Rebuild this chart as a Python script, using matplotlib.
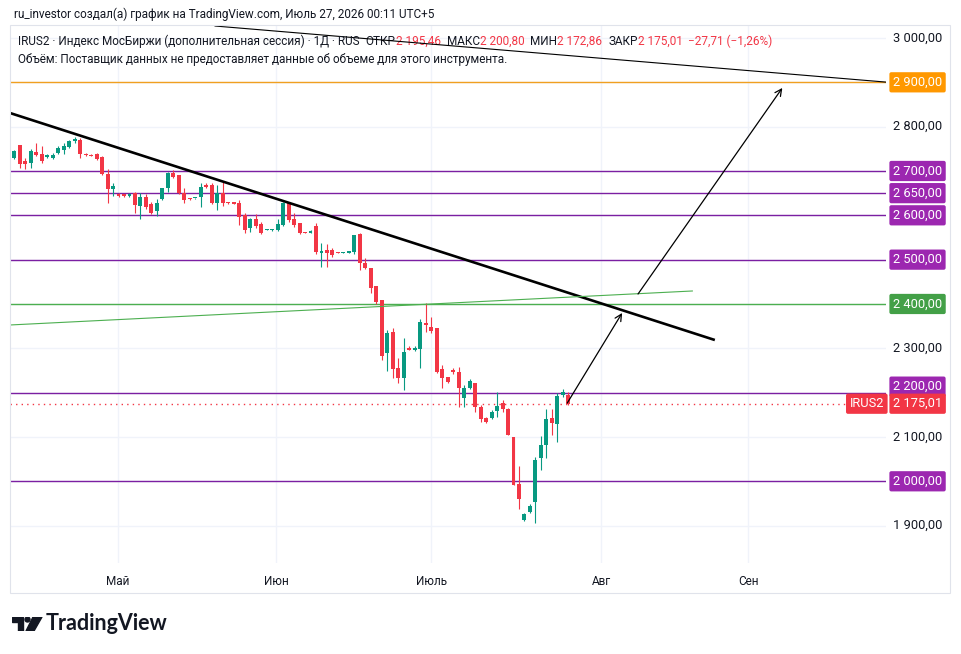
import matplotlib
matplotlib.use("Agg")
import matplotlib.pyplot as plt
import matplotlib.transforms as mtransforms
from matplotlib.patches import Polygon, Circle, Rectangle

# Дневные свечи IRUS2 (индекс по барам, торговые дни)
opens = [2729, 2759, 2723, 2718, 2743, 2738, 2732, 2730, 2741, 2747, 2754, 2768, 2770, 2738, 2737, 2738, 2731, 2693, 2659, 2648,
         2646, 2644, 2650, 2621, 2641, 2625, 2610, 2637, 2662, 2695, 2691, 2650, 2637, 2638, 2641, 2668, 2668, 2628, 2650, 2628,
         2627, 2628, 2600, 2571, 2592, 2580, 2566, 2566, 2567, 2578, 2628, 2592, 2583, 2562, 2560, 2576, 2515, 2522, 2522, 2516,
         2515, 2515, 2517, 2558, 2492, 2481, 2440, 2409, 2289, 2337, 2256, 2233, 2301, 2296, 2298, 2357, 2348, 2346, 2253, 2236,
         2251, 2247, 2188, 2210, 2222, 2168, 2143, 2143, 2159, 2177, 2163, 2100, 1994, 1913, 1930, 1953, 2053, 2082, 2143, 2130,
         2195, 2195.46]
highs = [2748, 2759, 2729, 2750, 2763, 2756, 2738, 2740, 2756, 2763, 2770, 2777, 2775, 2740, 2738, 2740, 2734, 2705, 2673, 2650,
         2648, 2650, 2652, 2650, 2648, 2630, 2637, 2662, 2698, 2702, 2691, 2661, 2638, 2640, 2673, 2673, 2673, 2668, 2675, 2629,
         2628, 2634, 2605, 2594, 2603, 2585, 2568, 2568, 2592, 2630, 2630, 2605, 2583, 2563, 2566, 2583, 2537, 2535, 2526, 2517,
         2517, 2520, 2556, 2560, 2503, 2481, 2440, 2409, 2341, 2346, 2278, 2323, 2305, 2305, 2366, 2402, 2370, 2346, 2262, 2236,
         2256, 2258, 2217, 2231, 2222, 2172, 2145, 2161, 2201, 2183, 2165, 2100, 2034, 1928, 1948, 2055, 2102, 2163, 2163, 2199,
         2208, 2200.80]
lows = [2726, 2707, 2705, 2707, 2734, 2718, 2729, 2727, 2738, 2738, 2752, 2763, 2730, 2734, 2733, 2725, 2690, 2628, 2644, 2642,
        2642, 2642, 2605, 2592, 2614, 2603, 2598, 2634, 2652, 2684, 2648, 2628, 2635, 2637, 2619, 2661, 2626, 2612, 2621, 2626,
        2625, 2578, 2560, 2562, 2571, 2557, 2566, 2565, 2565, 2576, 2585, 2573, 2557, 2559, 2559, 2512, 2483, 2483, 2506, 2514,
        2514, 2514, 2512, 2476, 2480, 2425, 2400, 2274, 2249, 2233, 2222, 2206, 2296, 2295, 2256, 2337, 2334, 2245, 2210, 2222,
        2242, 2168, 2168, 2208, 2156, 2134, 2132, 2141, 2145, 2156, 2104, 1992, 1937, 1910, 1928, 1906, 2026, 2053, 2104, 2089,
        2190, 2172.86]
closes = [2745, 2716, 2716, 2745, 2736, 2723, 2736, 2737, 2752, 2756, 2768, 2772, 2738, 2736, 2734, 2727, 2693, 2659, 2666, 2644,
          2644, 2648, 2623, 2641, 2619, 2605, 2628, 2661, 2695, 2686, 2650, 2634, 2636, 2639, 2664, 2664, 2628, 2650, 2628, 2627,
          2626, 2596, 2567, 2592, 2576, 2560, 2567, 2567, 2580, 2628, 2589, 2578, 2560, 2560, 2565, 2517, 2519, 2515, 2510, 2515,
          2516, 2519, 2556, 2492, 2481, 2436, 2404, 2283, 2334, 2253, 2233, 2292, 2297, 2300, 2359, 2353, 2339, 2247, 2233, 2224,
          2247, 2210, 2210, 2226, 2168, 2141, 2134, 2156, 2170, 2163, 2104, 1992, 1960, 1926, 1944, 2049, 2082, 2141, 2132, 2192,
          2201, 2175.01]

# Ось времени: метки месяцев (позиция в барах)
month_ticks = [18.9, 47.7, 76.0, 107.0, 133.8]
month_labels = ["Май", "Июн", "Июль", "Авг", "Сен"]

# Шкала цены
grid_levels = [1900, 2000, 2100, 2200, 2300, 2400, 2500, 2600, 2700, 2800, 2900, 3000]
plain_levels = [3000, 2800, 2300, 2100, 1900]

# Горизонтальные уровни, нарисованные автором
purple_levels = [2700, 2650, 2600, 2500, 2200, 2000]
green_level = 2400
orange_level = 2900
last_price = 2175.01

# Наклонные линии и стрелки: (бар, цена)
trend_thick = [(-0.78, 2830.8), (127.7, 2318.7)]
trend_thin = [(36.6, 3027.0), (158.9, 2900.5)]
trend_green = [(-0.78, 2352.6), (123.6, 2429.3)]
arrow_1 = [(100.8, 2176.6), (110.8, 2379.7)]
arrow_2 = [(113.7, 2422.5), (140.0, 2887.3)]

UP = "#089981"
DOWN = "#f23645"
PURPLE_LINE = "#7b1fa2"
PURPLE_BOX = "#9c27b0"
TEXT = "#131722"
FONT = ["Roboto", "DejaVu Sans"]


def fmt(v):
    return f"{v:,.2f}".replace(",", " ").replace(".", ",")


def draw_chart(output_file):
    plt.rcParams["font.family"] = FONT
    W, H = 961, 654
    fig = plt.figure(figsize=(W / 100, H / 100), dpi=100)
    fig.patch.set_facecolor("white")

    # область графика в пикселях: x 10..886, y 25..563
    ax = fig.add_axes([10 / W, 1 - 563 / H, 876 / W, 538 / H])
    ax.set_xlim(-0.78, 158.9)
    ax.set_ylim(1815.7, 3029.3)
    for s in ax.spines.values():
        s.set_visible(False)

    # сетка
    ax.set_yticks(grid_levels)
    ax.set_xticks(month_ticks)
    ax.set_xticklabels(month_labels, fontsize=8.5, color=TEXT)
    ax.tick_params(left=False, labelleft=False, bottom=False, pad=5)
    ax.grid(True, color="#f0f3fa", lw=1.0)
    ax.set_axisbelow(True)

    # горизонтальные уровни
    ax.axhline(orange_level, color="#f0a020", lw=1.0, zorder=2)
    for lv in purple_levels:
        ax.axhline(lv, color=PURPLE_LINE, lw=1.0, zorder=2)
    ax.axhline(green_level, color="#4caf50", lw=1.0, zorder=2)
    ax.axhline(last_price, xmax=(848 - 10) / 876, color=DOWN, lw=1.0, ls=(0, (1, 3)), zorder=2)

    # свечи
    for i in range(len(opens)):
        o, h, l, c = opens[i], highs[i], lows[i], closes[i]
        col = UP if c >= o else DOWN
        ax.vlines(i, l, h, color=col, lw=0.8, zorder=3)
        bottom = min(o, c)
        height = max(abs(c - o), 3)
        ax.bar(i, height, bottom=bottom, width=0.72, color=col, lw=0, zorder=4)

    # трендовые линии
    ax.plot(*zip(*trend_thick), color="black", lw=1.9, zorder=5, solid_capstyle="butt")
    ax.plot(*zip(*trend_thin), color="black", lw=0.8, zorder=5)
    ax.plot(*zip(*trend_green), color="#4caf50", lw=0.8, zorder=5)
    for a in (arrow_1, arrow_2):
        ax.annotate("", xy=a[1], xytext=a[0],
                    arrowprops=dict(arrowstyle="->", color="black", lw=0.9,
                                    mutation_scale=12, shrinkA=0, shrinkB=0), zorder=6)

    # шкала цены справа
    tr = mtransforms.blended_transform_factory(ax.transAxes, ax.transData)
    xl = (893 - 10) / 876
    fs = 9.3
    for lv in plain_levels:
        ax.text(xl, lv, fmt(lv), transform=tr, va="center", ha="left", fontsize=fs,
                color=TEXT, clip_on=False)

    def box_label(price, text, color, dy=0):
        t = mtransforms.offset_copy(tr, fig=fig, x=0, y=dy, units="dots")
        ax.text(xl, price, text, transform=t, va="center", ha="left", fontsize=fs,
                color="white", clip_on=False,
                bbox=dict(boxstyle="round,pad=0.28,rounding_size=0.15", fc=color, ec="none"))

    box_label(orange_level, fmt(orange_level), "#ff9800")
    for lv in purple_levels:
        box_label(lv, fmt(lv), PURPLE_BOX, dy=6 if lv == 2200 else 0)
    box_label(green_level, fmt(green_level), "#43a047")
    box_label(last_price, fmt(last_price), DOWN)
    t = mtransforms.offset_copy(tr, fig=fig, x=0, y=0, units="dots")
    ax.text((884 - 10) / 876, last_price, "IRUS2", transform=t, va="center", ha="right",
            fontsize=fs, color="white", clip_on=False,
            bbox=dict(boxstyle="round,pad=0.28,rounding_size=0.15", fc=DOWN, ec="none"))

    # заголовки
    fig.text(14 / W, 1 - 14 / H, "ru_investor создал(а) график на TradingView.com, Июль 27, 2026 00:11 UTC+5",
             fontsize=8.5, color=TEXT, va="center", ha="left")

    parts = [("IRUS2 · Индекс МосБиржи (дополнительная сессия) · 1Д · RUS", TEXT, 0),
             ("ОТКР", TEXT, 6), (fmt(2195.46), DOWN, 0),
             ("МАКС", TEXT, 6), (fmt(2200.80), DOWN, 0),
             ("МИН", TEXT, 6), (fmt(2172.86), DOWN, 0),
             ("ЗАКР", TEXT, 6), (fmt(2175.01), DOWN, 0),
             ("−27,71 (−1,26%)", DOWN, 6)]
    prev = fig.text(18 / W, 1 - 48 / H, parts[0][0], fontsize=8.5, color=parts[0][1],
                    va="bottom", ha="left")
    for s, col, gap in parts[1:]:
        prev = ax.annotate(s, xy=(1, 0), xycoords=prev, xytext=(gap, 0),
                           textcoords="offset pixels", va="bottom", ha="left",
                           fontsize=8.5, color=col, annotation_clip=False)
    fig.text(18 / W, 1 - 59 / H,
             "Объём: Поставщик данных не предоставляет данные об объеме для этого инструмента.",
             fontsize=8.5, color=TEXT, va="center", ha="left")

    # рамка графика
    fig.add_artist(Rectangle((10 / W, 1 - 593 / H), 940 / W, 568 / H, transform=fig.transFigure,
                             fill=False, ec="#e0e3eb", lw=0.8))

    # логотип TradingView
    lax = fig.add_axes([12 / W, 1 - 631 / H, 31 / W, 14 / H])
    lax.set_xlim(0, 31)
    lax.set_ylim(0, 14)
    lax.axis("off")
    lax.add_patch(Polygon([(0, 14), (11, 14), (11, 0), (6, 0), (6, 9), (0, 9)], color=TEXT))
    lax.add_patch(Circle((15.5, 11.5), 2.5, color=TEXT))
    lax.add_patch(Polygon([(21, 14), (30, 14), (22, 0), (14, 0)], color=TEXT))
    fig.text(46 / W, 1 - 624 / H, "TradingView", fontsize=15.5, fontweight="bold",
             family=["Lato", "DejaVu Sans"], color=TEXT, va="center", ha="left")

    plt.savefig(output_file, dpi=100)


if __name__ == "__main__":
    draw_chart("out.png")
